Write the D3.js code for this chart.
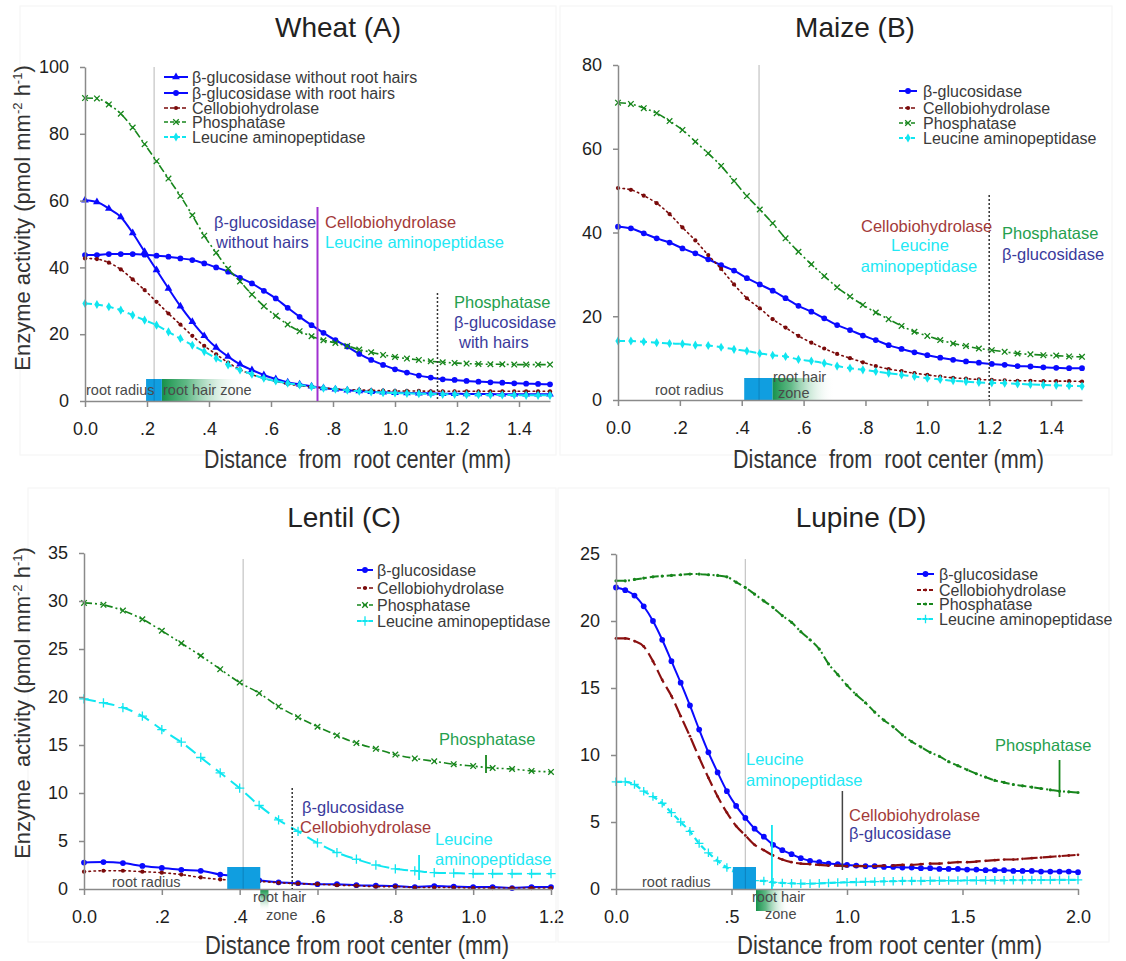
<!DOCTYPE html>
<html><head><meta charset="utf-8">
<script src="https://cdn.jsdelivr.net/npm/d3@7"></script>
<style>
body{margin:0;background:#fff;}
svg text{font-family:Arial,"Liberation Sans",sans-serif;white-space:pre;}
</style></head><body>
<svg id="c" width="1126" height="961"></svg>
<script>
// ---------------- DATA ----------------
const distA = d3.range(40).map(i => i * 1.5 / 39);
const distB = d3.range(37).map(i => i * 1.5 / 36);
const distC = d3.range(25).map(i => i * 0.05);
const distD = d3.range(51).map(i => i * 0.04);

const legendA = ["β-glucosidase without root hairs", "β-glucosidase with root hairs", "Cellobiohydrolase", "Phosphatase", "Leucine aminopeptidase"];
const legendBCD = ["β-glucosidase", "Cellobiohydrolase", "Phosphatase", "Leucine aminopeptidase"];

// Wheat (A)
const gluNoHairsA = [60.1, 59.6, 57.6, 55.1, 50.3, 44.7, 39.2, 33.7, 28.4, 23.7, 19.5, 16.0, 13.3, 11.0, 9.3, 7.8, 6.6, 5.6, 5.0, 4.4, 3.9, 3.5, 3.2, 3.0, 2.8, 2.6, 2.5, 2.4, 2.3, 2.3, 2.2, 2.2, 2.1, 2.1, 2.1, 2.0, 2.0, 2.0, 2.0, 2.0];
const gluHairsA = [43.7, 43.7, 44.0, 44.0, 44.0, 43.8, 43.5, 43.2, 42.7, 42.2, 41.2, 40.0, 38.7, 36.9, 35.2, 33.0, 30.7, 27.9, 25.2, 22.7, 20.4, 18.2, 16.3, 14.1, 12.3, 10.8, 9.5, 8.5, 7.6, 7.0, 6.5, 6.3, 6.0, 5.8, 5.6, 5.5, 5.3, 5.2, 5.1, 5.0];
const celA = [42.7, 42.5, 41.4, 39.4, 36.4, 33.2, 29.7, 26.2, 22.9, 19.5, 16.5, 14.0, 11.5, 9.4, 7.9, 6.8, 5.9, 5.1, 4.6, 4.2, 3.9, 3.6, 3.4, 3.3, 3.2, 3.1, 3.0, 3.0, 3.0, 2.9, 2.9, 2.9, 2.9, 2.9, 2.9, 2.9, 2.9, 2.9, 2.9, 2.9];
const phoA = [90.7, 90.6, 88.8, 86.0, 81.9, 76.9, 71.8, 66.6, 61.4, 55.6, 49.5, 44.4, 39.6, 35.8, 31.9, 28.4, 25.5, 22.9, 20.9, 19.4, 18.2, 17.4, 16.5, 15.4, 14.6, 13.8, 13.2, 12.7, 12.3, 11.9, 11.6, 11.4, 11.2, 11.1, 11.0, 11.0, 10.9, 10.9, 10.9, 10.9];
const leuA = [29.2, 28.9, 28.2, 27.2, 25.7, 24.2, 22.7, 20.7, 18.7, 16.7, 14.8, 12.8, 10.8, 9.3, 8.0, 6.8, 6.0, 5.3, 4.8, 4.3, 3.8, 3.5, 3.2, 2.9, 2.7, 2.5, 2.4, 2.3, 2.2, 2.1, 2.0, 2.0, 1.9, 1.9, 1.8, 1.8, 1.8, 1.7, 1.7, 1.7];

// Maize (B)
const gluB = [41.4, 41.0, 39.8, 38.6, 37.6, 36.2, 35.0, 33.6, 32.2, 30.9, 29.1, 27.6, 26.1, 24.3, 22.5, 21.1, 19.5, 17.9, 16.7, 15.4, 14.3, 13.1, 12.2, 11.4, 10.7, 10.1, 9.6, 9.2, 8.9, 8.6, 8.4, 8.1, 8.0, 7.8, 7.7, 7.6, 7.6];
const celB = [50.6, 50.2, 48.8, 47.0, 44.4, 41.2, 38.1, 34.6, 31.3, 27.6, 24.3, 21.9, 19.3, 17.3, 15.3, 13.7, 12.3, 11.0, 10.0, 9.0, 8.1, 7.4, 6.9, 6.4, 6.0, 5.6, 5.3, 5.1, 4.9, 4.8, 4.7, 4.6, 4.6, 4.5, 4.5, 4.5, 4.4];
const phoB = [71.0, 70.7, 69.7, 68.5, 66.6, 64.5, 61.7, 58.9, 55.9, 52.3, 48.7, 45.5, 42.2, 38.6, 35.4, 32.4, 29.6, 26.9, 24.7, 22.7, 20.9, 19.3, 17.7, 16.3, 15.3, 14.3, 13.5, 12.9, 12.3, 11.9, 11.5, 11.1, 10.9, 10.7, 10.6, 10.4, 10.3];
const leuB = [14.1, 14.1, 13.9, 13.7, 13.5, 13.4, 13.1, 13.0, 12.6, 12.1, 11.7, 11.1, 10.7, 10.4, 9.7, 9.3, 8.8, 8.1, 7.6, 7.2, 6.8, 6.4, 6.0, 5.6, 5.2, 4.9, 4.6, 4.4, 4.2, 4.1, 4.0, 3.85, 3.7, 3.6, 3.5, 3.4, 3.3];

// Lentil (C)
const gluC = [2.75, 2.8, 2.7, 2.4, 2.2, 2.0, 1.9, 1.5, 1.3, 0.9, 0.7, 0.6, 0.5, 0.5, 0.4, 0.35, 0.3, 0.2, 0.3, 0.25, 0.2, 0.2, 0.1, 0.2, 0.2];
const celC = [1.8, 1.9, 1.9, 1.8, 1.7, 1.5, 1.2, 1.0, 0.9, 0.8, 0.65, 0.55, 0.5, 0.4, 0.35, 0.25, 0.25, 0.15, 0.15, 0.15, 0.1, 0.1, 0.1, 0.1, 0.1];
const phoC = [29.8, 29.6, 29.0, 28.1, 26.9, 25.6, 24.3, 22.9, 21.5, 20.4, 19.0, 17.9, 16.9, 16.0, 15.2, 14.6, 14.0, 13.6, 13.3, 13.0, 12.8, 12.6, 12.5, 12.3, 12.2];
const leuC = [19.8, 19.4, 18.9, 18.0, 16.6, 15.3, 13.7, 12.1, 10.5, 8.7, 7.2, 6.0, 4.8, 3.8, 3.1, 2.5, 2.1, 1.9, 1.7, 1.65, 1.6, 1.6, 1.6, 1.6, 1.6];

// Lupine (D)
const gluD = [22.5, 22.3, 21.9, 21.1, 20.0, 18.6, 17.0, 15.4, 13.7, 11.9, 10.2, 8.7, 7.3, 6.2, 5.3, 4.5, 3.9, 3.3, 2.9, 2.6, 2.3, 2.1, 2.0, 1.9, 1.85, 1.8, 1.75, 1.7, 1.7, 1.65, 1.65, 1.6, 1.6, 1.55, 1.55, 1.5, 1.5, 1.5, 1.45, 1.45, 1.4, 1.4, 1.4, 1.35, 1.35, 1.35, 1.3, 1.3, 1.3, 1.3, 1.25];
const celD = [18.7, 18.7, 18.5, 18.1, 17.0, 15.6, 14.4, 12.9, 11.4, 9.8, 8.3, 6.9, 5.7, 4.7, 4.0, 3.3, 2.9, 2.5, 2.2, 2.0, 1.9, 1.85, 1.8, 1.75, 1.75, 1.7, 1.7, 1.7, 1.7, 1.75, 1.75, 1.8, 1.8, 1.85, 1.9, 1.9, 1.95, 2.0, 2.0, 2.05, 2.1, 2.15, 2.2, 2.2, 2.25, 2.3, 2.35, 2.4, 2.45, 2.5, 2.55];
const phoD = [23.0, 23.0, 23.1, 23.2, 23.3, 23.35, 23.4, 23.45, 23.5, 23.5, 23.45, 23.4, 23.3, 22.9, 22.5, 22.0, 21.5, 21.0, 20.4, 19.9, 19.2, 18.6, 17.9, 16.8, 16.0, 15.2, 14.5, 13.9, 13.2, 12.6, 12.1, 11.5, 11.0, 10.6, 10.2, 9.9, 9.5, 9.2, 8.9, 8.6, 8.35, 8.1, 7.95, 7.8, 7.7, 7.6, 7.5, 7.4, 7.3, 7.25, 7.2];
const leuD = [8.0, 8.0, 7.8, 7.3, 6.9, 6.4, 5.7, 5.0, 4.3, 3.4, 2.7, 2.1, 1.6, 1.3, 0.9, 0.62, 0.6, 0.5, 0.45, 0.42, 0.4, 0.4, 0.42, 0.45, 0.48, 0.5, 0.52, 0.54, 0.55, 0.57, 0.58, 0.6, 0.6, 0.6, 0.62, 0.62, 0.63, 0.63, 0.64, 0.64, 0.65, 0.65, 0.65, 0.66, 0.66, 0.67, 0.67, 0.67, 0.68, 0.68, 0.68];

// tick labels
const xTicksAB = [0, 0.2, 0.4, 0.6, 0.8, 1.0, 1.2, 1.4];
const xLabelsAB = ["0.0", ".2", ".4", ".6", ".8", "1.0", "1.2", "1.4"];
const xTicksC = [0, 0.2, 0.4, 0.6, 0.8, 1.0, 1.2];
const xLabelsC = ["0.0", ".2", ".4", ".6", ".8", "1.0", "1.2"];
const xTicksD = [0, 0.5, 1.0, 1.5, 2.0];
const xLabelsD = ["0.0", ".5", "1.0", "1.5", "2.0"];
const yTicksA = [0, 20, 40, 60, 80, 100];
const yTicksB = [0, 20, 40, 60, 80];
const yTicksC = [0, 5, 10, 15, 20, 25, 30, 35];
const yTicksD = [0, 5, 10, 15, 20, 25];

// ---------------- STYLES ----------------
const C = {blue:"#0a0aff", red:"#7a0a0a", green:"#17861c", cyan:"#10e6f0",
  tBlue:"#3a3a9c", tRed:"#a33a3a", tGreen:"#25a04e", tCyan:"#22e8f4", gray:"#4a4a4a"};
const styles = {
  glu:   {color:C.blue, width:2, dash:null, sym:d3.symbolCircle, size:26, fill:true},
  gluTri:{color:C.blue, width:2, dash:null, sym:d3.symbolTriangle, size:26, fill:true},
  cel:   {color:C.red, width:1.6, dash:"1.5,3.5", sym:d3.symbolCircle, size:14, fill:true, cap:"round"},
  pho:   {color:C.green, width:1.6, dash:"8,3,2,3,2,3", sym:d3.symbolTimes, size:22, fill:false},
  leu:   {color:C.cyan, width:2, dash:"7,4", sym:d3.symbolDiamond, size:24, fill:true},
  leuC:  {color:C.cyan, width:2, dash:"12,7", sym:d3.symbolPlus, size:30, fill:false},
  celD:  {color:"#8a1010", width:2.2, dash:"14,5", sym:d3.symbolCircle, size:6, fill:true},
  phoD:  {color:C.green, width:2, dash:"9,3,2,3", sym:d3.symbolCircle, size:8, fill:true},
  leuD:  {color:C.cyan, width:2.2, dash:"6,4", sym:d3.symbolPlus, size:26, fill:false}
};

const svg = d3.select("#c");
const defs = svg.append("defs");
function grad(id, horizontal){
  const g = defs.append("linearGradient").attr("id", id)
    .attr("x1","0").attr("y1","0").attr("x2", horizontal ? "1" : "0").attr("y2", horizontal ? "0" : "1");
  g.append("stop").attr("offset","0").attr("stop-color","#16914a");
  g.append("stop").attr("offset","0.3").attr("stop-color","#3aa869").attr("stop-opacity",0.8);
  g.append("stop").attr("offset","1").attr("stop-color","#ffffff").attr("stop-opacity",0);
}
grad("gh", true); grad("gv", false);

function label(g, x, y, str, o = {}) {
  const t = g.append("text").attr("x", x).attr("y", y).text(str)
    .attr("font-size", o.size || 16.5).attr("fill", o.color || "#333")
    .attr("text-anchor", o.anchor || "start");
  if (o.len) t.attr("textLength", o.len).attr("lengthAdjust", "spacingAndGlyphs");
  return t;
}

function panel(p) {
  const g = svg.append("g");
  g.append("rect").attr("x", p.frame[0]).attr("y", p.frame[1])
    .attr("width", p.frame[2] - p.frame[0]).attr("height", p.frame[3] - p.frame[1])
    .attr("fill", "none").attr("stroke", "#f6f6f6").attr("stroke-width", 1.2);
  const x = d3.scaleLinear().domain([0, p.xMax]).range([p.px0, p.px1]);
  const y = d3.scaleLinear().domain([0, p.yMax]).range([p.py0, p.py1]);

  // root radius gray line
  g.append("line").attr("x1", x(p.radiusLine)).attr("x2", x(p.radiusLine))
    .attr("y1", p.py1 + (p.grayTop || 0)).attr("y2", p.py0).attr("stroke", "#c8c8c8").attr("stroke-width", 1.3);

  // series
  const line = d3.line().x(d => x(d[0])).y(d => y(d[1])).curve(d3.curveMonotoneX);
  p.series.forEach(s => {
    const st = styles[s.style];
    const pts = p.dist.map((d, i) => [d, s.values[i]]);
    g.append("path").attr("d", line(pts)).attr("fill", "none")
      .attr("stroke", st.color).attr("stroke-width", st.width)
      .attr("stroke-dasharray", st.dash).attr("stroke-linecap", st.cap || "butt");
    g.append("g").selectAll("path").data(pts).join("path")
      .attr("transform", d => `translate(${x(d[0])},${y(d[1])})`)
      .attr("d", d3.symbol().type(st.sym).size(st.size))
      .attr("fill", st.fill ? st.color : "none")
      .attr("stroke", st.fill ? "none" : st.color).attr("stroke-width", 1.3);
  });

  // root box & hair zone
  const bh = 22;
  if (p.zone.below) {
    g.append("rect").attr("x", x(p.zone.hair[0])).attr("y", p.py0)
      .attr("width", x(p.zone.hair[1]) - x(p.zone.hair[0])).attr("height", 22)
      .attr("fill", p.zone.vert ? "url(#gv)" : "url(#gh)");
  } else {
    g.append("rect").attr("x", x(p.zone.hair[0])).attr("y", p.py0 - bh)
      .attr("width", x(p.zone.hair[1]) - x(p.zone.hair[0])).attr("height", bh)
      .attr("fill", "url(#gh)");
  }
  g.append("rect").attr("x", x(p.zone.box[0])).attr("y", p.py0 - bh)
    .attr("width", x(p.zone.box[1]) - x(p.zone.box[0])).attr("height", bh).attr("fill", "#109ee0");
  g.append("line").attr("x1", x(p.radiusLine)).attr("x2", x(p.radiusLine))
    .attr("y1", p.py0 - bh).attr("y2", p.py0).attr("stroke", "#0a6fa8").attr("stroke-width", 1).attr("opacity", 0.6);
  p.zoneText.forEach(t => label(g, t[0], t[1], t[2], {size: 14.5, color: "#4a4a4a"}));

  // axes
  const xa = g.append("g").attr("transform", `translate(0,${p.py0})`)
    .call(d3.axisBottom(x).tickValues(p.xTicks).tickFormat((d, i) => p.xLabels[i])
      .tickSize(6).tickPadding(15).tickSizeOuter(0));
  const ya = g.append("g").attr("transform", `translate(${p.px0},0)`)
    .call(d3.axisLeft(y).tickValues(p.yTicks).tickFormat(d3.format("d"))
      .tickSize(5).tickPadding(11).tickSizeOuter(0));
  [xa, ya].forEach(a => {
    a.attr("font-size", null).attr("font-family", null);
    a.select(".domain").attr("stroke", "#8a8a8a").attr("stroke-width", 1.5);
    a.selectAll(".tick line").attr("stroke", "#8a8a8a").attr("stroke-width", 1.5);
    a.selectAll(".tick text").attr("font-size", 18).attr("fill", "#1e1e1e");
  });

  // annotation lines
  p.vlines.forEach(v => {
    g.append("line").attr("x1", x(v.x)).attr("x2", x(v.x)).attr("y1", v.y1).attr("y2", v.y2 || p.py0)
      .attr("stroke", v.color).attr("stroke-width", v.w || 1.5).attr("stroke-dasharray", v.dash || null);
  });
  p.notes.forEach(n => label(g, n[0], n[1], n[2], {color: n[3], anchor: n[4]}));

  // legend
  p.legend.forEach((name, i) => {
    const st = styles[p.series[i].style];
    const yy = p.leg.rows[i];
    g.append("line").attr("x1", p.leg.x0).attr("x2", p.leg.x1).attr("y1", yy).attr("y2", yy)
      .attr("stroke", st.color).attr("stroke-width", st.width)
      .attr("stroke-dasharray", st.dash ? "4,2" : null);
    g.append("path").attr("transform", `translate(${(p.leg.x0 + p.leg.x1) / 2},${yy})`)
      .attr("d", d3.symbol().type(st.sym).size(st.size))
      .attr("fill", st.fill ? st.color : "none").attr("stroke", st.fill ? "none" : st.color).attr("stroke-width", 1.3);
    label(g, p.leg.tx, yy + 5.5, name, {size: 16, color: "#3a3a3a"});
  });

  // titles
  label(g, p.title[0], p.title[1], p.title[2], {size: 28, color: "#222", anchor: "middle"});
  label(g, p.xTitle[0], p.xTitle[1], p.xTitle[2], {size: 25, color: "#333", len: p.xTitle[3]});
  if (p.yTitle) {
    const t = g.append("text").attr("transform", `translate(${p.yTitle[0]},${p.yTitle[1]}) rotate(-90)`)
      .attr("text-anchor", "middle").attr("font-size", 22).attr("fill", "#333");
    t.append("tspan").text(p.yTitle[2]);
    t.append("tspan").attr("font-size", 13).attr("dy", -8).text("-2");
    t.append("tspan").attr("dy", 8).text(" h");
    t.append("tspan").attr("font-size", 13).attr("dy", -8).text("-1");
    t.append("tspan").attr("dy", 8).text(")");
  }
}

// ---------------- PANELS ----------------
panel({
  frame: [20, 6, 556, 455],
  dist: distA, xMax: 1.5, yMax: 100, px0: 85, px1: 550, py0: 401, py1: 67,
  xTicks: xTicksAB, xLabels: xLabelsAB, yTicks: yTicksA,
  series: [{values: gluNoHairsA, style: "gluTri"}, {values: gluHairsA, style: "glu"},
           {values: celA, style: "cel"}, {values: phoA, style: "pho"}, {values: leuA, style: "leu"}],
  legend: legendA, leg: {x0: 164, x1: 188, tx: 192, rows: [77, 93, 108, 122, 137]},
  radiusLine: 0.223, zone: {box: [0.197, 0.248], hair: [0.248, 0.52]},
  zoneText: [[86, 395, "root radius"], [163, 395, "root hair zone"]],
  vlines: [{x: 0.75, y1: 207, color: "#a030d0", w: 2}, {x: 1.137, y1: 293, color: "#333", dash: "2,2"}],
  notes: [[214, 228, "β-glucosidase", C.tBlue], [216, 248, "without hairs", C.tBlue],
          [325, 228, "Cellobiohydrolase", C.tRed], [325, 248, "Leucine aminopeptidase", C.tCyan],
          [454, 308, "Phosphatase", C.tGreen], [454, 328, "β-glucosidase", C.tBlue], [459, 348, "with hairs", C.tBlue]],
  title: [338, 37, "Wheat (A)"],
  xTitle: [204, 468, "Distance  from  root center (mm)", 307],
  yTitle: [30, 218, "Enzyme activity (pmol mm"]
});

panel({
  frame: [560, 6, 1112, 455],
  dist: distB, xMax: 1.5, yMax: 80, px0: 618, px1: 1082, py0: 400, py1: 65,
  xTicks: xTicksAB, xLabels: xLabelsAB, yTicks: yTicksB,
  series: [{values: gluB, style: "glu"}, {values: celB, style: "cel"}, {values: phoB, style: "pho"}, {values: leuB, style: "leu"}],
  legend: legendBCD, leg: {x0: 899, x1: 917, tx: 923, rows: [91, 108, 123, 138]},
  radiusLine: 0.456, zone: {box: [0.408, 0.499], hair: [0.499, 0.70]},
  zoneText: [[655, 395, "root radius"], [773, 382, "root hair"], [778, 398, "zone"]],
  vlines: [{x: 1.2, y1: 195, color: "#333", dash: "2,2"}],
  notes: [[861, 232, "Cellobiohydrolase", C.tRed], [920, 251, "Leucine", C.tCyan, "middle"],
          [919, 272, "aminopeptidase", C.tCyan, "middle"], [1002, 239, "Phosphatase", C.tGreen],
          [1002, 260, "β-glucosidase", C.tBlue]],
  title: [855, 37, "Maize (B)"],
  xTitle: [733, 468, "Distance  from  root center (mm)", 311]
});

panel({
  frame: [28, 488, 556, 942],
  dist: distC, xMax: 1.2, yMax: 35, px0: 84, px1: 551, py0: 889, py1: 553, grayTop: 6,
  xTicks: xTicksC, xLabels: xLabelsC, yTicks: yTicksC,
  series: [{values: gluC, style: "glu"}, {values: celC, style: "cel"}, {values: phoC, style: "pho"}, {values: leuC, style: "leuC"}],
  legend: legendBCD, leg: {x0: 357, x1: 373, tx: 377, rows: [570, 588, 605, 621]},
  radiusLine: 0.409, zone: {box: [0.368, 0.453], hair: [0.453, 0.474], below: true, vert: true},
  zoneText: [[112, 887, "root radius"], [253, 902, "root hair"], [266, 920, "zone"]],
  vlines: [{x: 0.535, y1: 788, color: "#333", dash: "2,2"},
           {x: 1.033, y1: 755, y2: 773, color: C.green, w: 1.8},
           {x: 0.861, y1: 855, y2: 880, color: C.cyan, w: 1.8}],
  notes: [[302, 813, "β-glucosidase", C.tBlue], [300, 833, "Cellobiohydrolase", C.tRed],
          [439, 745, "Phosphatase", C.tGreen], [435, 845, "Leucine", C.tCyan], [435, 865, "aminopeptidase", C.tCyan]],
  title: [344, 527, "Lentil (C)"],
  xTitle: [205, 954, "Distance from root center (mm)", 304],
  yTitle: [30, 703, "Enzyme  activity (pmol mm"]
});

panel({
  frame: [558, 488, 1109, 942],
  dist: distD, xMax: 2.0, yMax: 25, px0: 616, px1: 1078, py0: 889, py1: 554, grayTop: 5,
  xTicks: xTicksD, xLabels: xLabelsD, yTicks: yTicksD,
  series: [{values: gluD, style: "glu"}, {values: celD, style: "celD"}, {values: phoD, style: "phoD"}, {values: leuD, style: "leuD"}],
  legend: legendBCD, leg: {x0: 917, x1: 934, tx: 939, rows: [574, 590, 604, 619]},
  radiusLine: 0.56, zone: {box: [0.506, 0.606], hair: [0.606, 0.75], below: true},
  zoneText: [[642, 887, "root radius"], [752, 902, "root hair"], [765, 919, "zone"]],
  vlines: [{x: 0.675, y1: 825, color: C.cyan, w: 1.8},
           {x: 0.98, y1: 791, y2: 870, color: "#444", w: 1.5},
           {x: 1.92, y1: 760, y2: 797, color: C.green, w: 1.8}],
  notes: [[746, 765, "Leucine", C.tCyan], [746, 786, "aminopeptidase", C.tCyan],
          [849, 821, "Cellobiohydrolase", C.tRed], [849, 839, "β-glucosidase", C.tBlue],
          [995, 751, "Phosphatase", C.tGreen]],
  title: [861, 527, "Lupine (D)"],
  xTitle: [737, 954, "Distance from root center (mm)", 305]
});
</script>
</body></html>
